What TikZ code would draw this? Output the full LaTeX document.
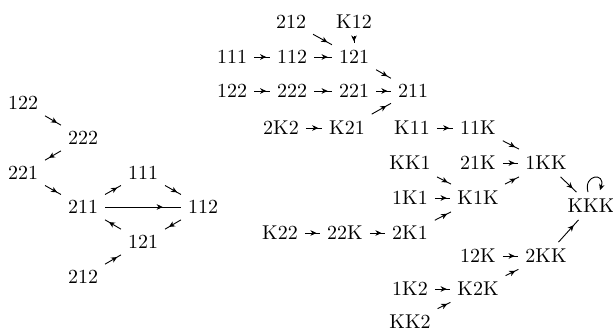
\documentclass[tikz,border=0pt]{standalone}
\usetikzlibrary{arrows.meta,decorations.markings,calc}
\tikzset{
  lab/.style={inner sep=3.33pt},
  arr/.style={line width=0.45pt,
    decoration={markings,mark=at position 0.76 with {\arrow{Stealth[length=3pt,width=2.8pt,inset=0.9pt]}}},
    postaction={decorate}},
  looparr/.style={line width=0.45pt,-{Stealth[length=3pt,width=2.8pt,inset=0.9pt]}}
}
\begin{document}
\begin{tikzpicture}[x=0.5pt,y=-0.5pt]
\useasboundingbox (0,0) rectangle (613,331);
% left graph
\node[lab] (L122) at (23,103) {122};
\node[lab] (L222) at (83,138) {222};
\node[lab] (L221) at (23,173) {221};
\node[lab] (L211) at (83,207) {211};
\node[lab] (L111) at (143,173) {111};
\node[lab] (L112) at (203,207) {112};
\node[lab] (L121) at (143,242) {121};
\node[lab] (L212) at (83,277) {212};
\draw[arr] (L122) -- (L222);
\draw[arr] (L222) -- (L221);
\draw[arr] (L221) -- (L211);
\draw[arr] (L211) -- (L111);
\draw[arr] (L111) -- (L112);
\draw[arr] (L211) -- (L112);
\draw[arr] (L112) -- (L121);
\draw[arr] (L121) -- (L211);
\draw[arr] (L212) -- (L121);
% right graph
\node[lab] (R212) at (291,22) {212};
\node[lab] (RK12) at (354,22) {K12};
\node[lab] (R111) at (232,57) {111};
\node[lab] (R112) at (292,57) {112};
\node[lab] (R121) at (354,57) {121};
\node[lab] (R122) at (232,91) {122};
\node[lab] (R222) at (292,91) {222};
\node[lab] (R221) at (354,91) {221};
\node[lab] (R211) at (413,91) {211};
\node[lab] (R2K2) at (281,128) {2K2};
\node[lab] (RK21) at (347,128) {K21};
\node[lab] (RK11) at (412,128) {K11};
\node[lab] (R11K) at (478,128) {11K};
\node[lab] (RKK1) at (410,163) {KK1};
\node[lab] (R21K) at (478,163) {21K};
\node[lab] (R1KK) at (546,163) {1KK};
\node[lab] (R1K1) at (410,198) {1K1};
\node[lab] (RK1K) at (478,198) {K1K};
\node[lab] (RKKK) at (591,206) {KKK};
\node[lab] (RK22) at (280,233) {K22};
\node[lab] (R22K) at (345,233) {22K};
\node[lab] (R2K1) at (410,233) {2K1};
\node[lab] (R12K) at (478,256) {12K};
\node[lab] (R2KK) at (546,256) {2KK};
\node[lab] (R1K2) at (410,289) {1K2};
\node[lab] (RK2K) at (478,289) {K2K};
\node[lab] (RKK2) at (410,322) {KK2};
\draw[arr] (R212) -- (R121);
\draw[arr] (RK12) -- (R121);
\draw[arr] (R111) -- (R112);
\draw[arr] (R112) -- (R121);
\draw[arr] (R121) -- (R211);
\draw[arr] (R122) -- (R222);
\draw[arr] (R222) -- (R221);
\draw[arr] (R221) -- (R211);
\draw[arr] (RK21) -- (R211);
\draw[arr] (R2K2) -- (RK21);
\draw[arr] (RK11) -- (R11K);
\draw[arr] (R11K) -- (R1KK);
\draw[arr] (R21K) -- (R1KK);
\draw[arr] (RKK1) -- (RK1K);
\draw[arr] (R1K1) -- (RK1K);
\draw[arr] (R2K1) -- (RK1K);
\draw[arr] (RK1K) -- (R1KK);
\draw[arr] (RK22) -- (R22K);
\draw[arr] (R22K) -- (R2K1);
\draw[arr] (R1KK) -- (RKKK);
\draw[arr] (R2KK) -- (RKKK);
\draw[arr] (R12K) -- (R2KK);
\draw[arr] (R1K2) -- (RK2K);
\draw[arr] (RKK2) -- (RK2K);
\draw[arr] (RK2K) -- (R2KK);
\draw[looparr] ($(RKKK.north)+(-3,0)$) .. controls +(-5,-18) and +(6,-18) .. ($(RKKK.north)+(9,-2)$);
\end{tikzpicture}
\end{document}
